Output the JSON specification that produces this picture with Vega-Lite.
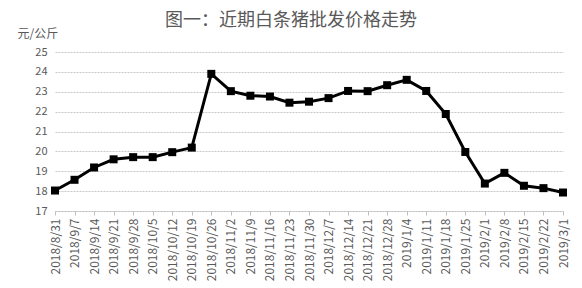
{
  "$schema": "https://vega.github.io/schema/vega-lite/v6.json",
  "autosize": {"type": "none"},
  "width": 508,
  "height": 159,
  "padding": {"left": 55, "top": 52, "right": 19, "bottom": 77},
  "background": "white",
  "title": {
    "text": "图一：近期白条猪批发价格走势",
    "anchor": "middle",
    "frame": "group",
    "dx": -18,
    "offset": -3,
    "font": "Noto Sans CJK SC",
    "fontSize": 18,
    "fontWeight": "normal",
    "color": "#595959"
  },
  "config": {
    "view": {"stroke": null},
    "font": "Noto Sans CJK SC"
  },
  "data": {
    "values": [
      {"date": "2018/8/31", "price": 18.03},
      {"date": "2018/9/7", "price": 18.57},
      {"date": "2018/9/14", "price": 19.19},
      {"date": "2018/9/21", "price": 19.6},
      {"date": "2018/9/28", "price": 19.71},
      {"date": "2018/10/5", "price": 19.71},
      {"date": "2018/10/12", "price": 19.96},
      {"date": "2018/10/19", "price": 20.19},
      {"date": "2018/10/26", "price": 23.9},
      {"date": "2018/11/2", "price": 23.03},
      {"date": "2018/11/9", "price": 22.8},
      {"date": "2018/11/16", "price": 22.76},
      {"date": "2018/11/23", "price": 22.45},
      {"date": "2018/11/30", "price": 22.5},
      {"date": "2018/12/7", "price": 22.68},
      {"date": "2018/12/14", "price": 23.04},
      {"date": "2018/12/21", "price": 23.03},
      {"date": "2018/12/28", "price": 23.33},
      {"date": "2019/1/4", "price": 23.6},
      {"date": "2019/1/11", "price": 23.04},
      {"date": "2019/1/18", "price": 21.88},
      {"date": "2019/1/25", "price": 19.97},
      {"date": "2019/2/1", "price": 18.38},
      {"date": "2019/2/8", "price": 18.92},
      {"date": "2019/2/15", "price": 18.27},
      {"date": "2019/2/22", "price": 18.15},
      {"date": "2019/3/1", "price": 17.93}
    ]
  },
  "encoding": {
    "x": {
      "field": "date",
      "type": "ordinal",
      "sort": null,
      "scale": {"type": "point", "padding": 0},
      "axis": {
        "title": null,
        "labelAngle": -90,
        "labelAlign": "right",
        "labelBaseline": "middle",
        "labelFontSize": 12,
        "labelColor": "#595959",
        "labelPadding": 3,
        "tickSize": 4,
        "tickColor": "#bfbfbf",
        "domainColor": "#bfbfbf",
        "domainDash": [2, 1],
        "grid": false
      }
    },
    "y": {
      "field": "price",
      "type": "quantitative",
      "scale": {"domain": [17, 25], "nice": false, "zero": false},
      "axis": {
        "values": [17, 18, 19, 20, 21, 22, 23, 24, 25],
        "title": "元/公斤",
        "titleAngle": 0,
        "titleAlign": "left",
        "titleBaseline": "middle",
        "titleX": -38,
        "titleY": -19,
        "titleFontSize": 12,
        "titleFontWeight": "normal",
        "titleColor": "#595959",
        "labelFontSize": 11,
        "labelColor": "#595959",
        "labelPadding": 8,
        "ticks": false,
        "domain": false,
        "grid": true,
        "gridColor": "#c8c8c8",
        "gridDash": [2, 1],
        "gridWidth": 1
      }
    }
  },
  "layer": [
    {"mark": {"type": "line", "color": "#000000", "strokeWidth": 3}},
    {"mark": {"type": "point", "shape": "square", "filled": true, "color": "#000000", "size": 64, "opacity": 1}}
  ]
}
